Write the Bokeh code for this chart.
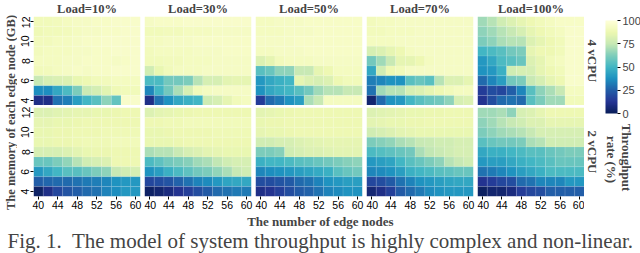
import math
import numpy as np
from bokeh.plotting import figure
from bokeh.layouts import row, column
from bokeh.models import (LinearColorMapper, ColorBar, FixedTicker, Label,
                          ColumnDataSource, Range1d)
from bokeh.palettes import YlGnBu9
from bokeh.embed import file_html
from bokeh.resources import INLINE

# ---------------- data ----------------
nodes = [40, 42, 44, 46, 48, 50, 52, 54, 56, 58, 60]
memory_rows = [12, 11, 10, 9, 8, 7, 6, 5, 4]          # row order of the tables below (top to bottom)
x_ticks = [40, 44, 48, 52, 56, 60]
y_ticks = [4, 6, 8, 10, 12]
loads = ["Load=10%", "Load=30%", "Load=50%", "Load=70%", "Load=100%"]
cpu_labels = ["4 vCPU", "2 vCPU"]
cbar_ticks = [0, 25, 50, 75, 100]
x_title = "The number of edge nodes"
y_title = "The memory of each edge node (GB)"
cbar_title = ["Throughput", "rate (%)"]
caption = "Fig. 1.\u00a0 The model of system throughput is highly complex and non-linear."

cpu4_load10 = [
    [90, 90, 91, 92, 93, 93, 94, 94, 95, 95, 95],
    [89, 90, 90, 91, 92, 93, 93, 94, 94, 95, 95],
    [91, 91, 92, 92, 93, 94, 94, 95, 95, 95, 95],
    [91, 92, 92, 92, 93, 93, 94, 94, 95, 95, 95],
    [92, 92, 92, 93, 93, 94, 94, 94, 93, 94, 95],
    [90, 91, 92, 93, 94, 93, 94, 94, 95, 95, 95],
    [75, 80, 81, 82, 86, 88, 90, 91, 92, 92, 92],
    [37, 37, 45, 52, 62, 76, 79, 84, 89, 90, 90],
    [10, 10, 30, 33, 42, 50, 55, 65, 57, 95, 95],
]
cpu4_load30 = [
    [93, 94, 94, 94, 95, 95, 95, 95, 95, 95, 95],
    [90, 90, 91, 91, 92, 92, 92, 93, 93, 93, 93],
    [92, 92, 93, 93, 93, 94, 94, 94, 94, 94, 94],
    [91, 92, 92, 92, 92, 93, 93, 93, 94, 94, 94],
    [90, 90, 91, 91, 92, 92, 92, 93, 93, 93, 93],
    [78, 86, 90, 92, 92, 92, 93, 93, 93, 93, 93],
    [52, 52, 60, 60, 62, 72, 80, 80, 84, 85, 85],
    [35, 50, 60, 70, 80, 90, 92, 93, 93, 93, 93],
    [10, 30, 38, 45, 48, 50, 77, 80, 85, 90, 92],
]
cpu4_load50 = [
    [92, 92, 93, 93, 93, 94, 94, 94, 94, 94, 94],
    [92, 92, 92, 93, 93, 93, 94, 94, 94, 94, 94],
    [93, 93, 93, 93, 94, 94, 94, 94, 94, 94, 94],
    [92, 92, 93, 93, 93, 94, 94, 94, 94, 94, 94],
    [82, 85, 91, 92, 92, 92, 93, 93, 93, 93, 93],
    [55, 58, 65, 65, 75, 75, 85, 88, 92, 92, 92],
    [40, 45, 48, 50, 85, 82, 80, 82, 88, 90, 90],
    [38, 45, 48, 50, 55, 60, 68, 72, 72, 75, 75],
    [15, 28, 32, 38, 42, 70, 75, 92, 92, 92, 92],
]
cpu4_load70 = [
    [91, 92, 92, 93, 93, 93, 93, 93, 93, 93, 93],
    [91, 91, 92, 92, 92, 93, 93, 93, 93, 93, 93],
    [92, 92, 92, 93, 93, 93, 93, 93, 93, 93, 93],
    [80, 82, 85, 88, 92, 93, 93, 93, 93, 93, 93],
    [60, 68, 75, 85, 85, 88, 92, 93, 93, 93, 93],
    [45, 78, 88, 90, 93, 93, 93, 93, 93, 93, 93],
    [33, 35, 38, 38, 55, 58, 55, 72, 82, 82, 85],
    [30, 68, 72, 72, 80, 82, 85, 88, 90, 92, 92],
    [5, 28, 38, 40, 50, 55, 58, 60, 65, 80, 82],
]
cpu4_load100 = [
    [68, 72, 78, 82, 85, 88, 90, 92, 94, 94, 94],
    [65, 68, 72, 75, 80, 85, 88, 90, 92, 95, 95],
    [62, 65, 70, 72, 72, 82, 85, 88, 90, 95, 95],
    [50, 52, 55, 60, 62, 85, 88, 88, 90, 95, 95],
    [40, 45, 52, 55, 58, 82, 85, 90, 92, 95, 95],
    [38, 40, 48, 78, 80, 80, 85, 88, 90, 95, 95],
    [28, 35, 42, 60, 62, 75, 80, 85, 88, 95, 95],
    [15, 20, 18, 25, 35, 55, 65, 70, 75, 92, 92],
    [12, 20, 28, 30, 28, 55, 62, 68, 68, 90, 90],
]
cpu2_load10 = [
    [82, 82, 83, 84, 85, 85, 86, 86, 87, 88, 88],
    [85, 85, 86, 86, 87, 88, 88, 88, 88, 88, 88],
    [86, 86, 87, 87, 88, 88, 88, 89, 89, 89, 89],
    [86, 86, 87, 87, 88, 89, 89, 89, 90, 90, 90],
    [80, 80, 80, 82, 84, 86, 87, 87, 88, 88, 88],
    [58, 58, 62, 66, 72, 78, 80, 82, 88, 88, 88],
    [40, 45, 50, 55, 55, 58, 62, 65, 75, 78, 80],
    [25, 27, 28, 28, 30, 32, 33, 35, 38, 40, 40],
    [3, 10, 18, 22, 25, 28, 30, 34, 37, 40, 40],
]
cpu2_load30 = [
    [82, 84, 85, 86, 87, 88, 88, 88, 88, 88, 88],
    [88, 88, 89, 89, 90, 90, 90, 90, 90, 90, 90],
    [86, 86, 87, 88, 88, 88, 88, 89, 89, 89, 89],
    [86, 86, 86, 87, 88, 88, 88, 88, 88, 88, 88],
    [70, 72, 72, 76, 80, 82, 84, 85, 86, 86, 86],
    [52, 56, 60, 62, 64, 68, 70, 74, 78, 80, 80],
    [38, 42, 48, 52, 56, 60, 62, 66, 70, 75, 78],
    [18, 20, 22, 26, 30, 34, 36, 40, 44, 45, 45],
    [3, 5, 8, 12, 16, 20, 24, 28, 30, 32, 32],
]
cpu2_load50 = [
    [84, 85, 86, 87, 88, 88, 88, 88, 88, 88, 88],
    [86, 87, 87, 88, 88, 88, 88, 88, 88, 88, 88],
    [85, 86, 86, 87, 88, 88, 88, 88, 88, 88, 88],
    [78, 78, 80, 80, 82, 83, 84, 85, 85, 85, 85],
    [62, 62, 64, 78, 80, 82, 82, 83, 84, 84, 84],
    [48, 50, 50, 52, 55, 56, 58, 60, 62, 64, 65],
    [35, 37, 38, 40, 42, 44, 46, 48, 55, 58, 60],
    [20, 20, 22, 24, 28, 30, 34, 38, 40, 42, 42],
    [10, 12, 16, 20, 24, 26, 30, 34, 36, 38, 38],
]
cpu2_load70 = [
    [82, 83, 84, 85, 86, 86, 87, 87, 88, 88, 88],
    [84, 85, 86, 86, 87, 87, 88, 88, 88, 88, 88],
    [78, 80, 82, 84, 85, 86, 86, 86, 86, 86, 86],
    [62, 64, 66, 70, 72, 75, 76, 78, 78, 80, 80],
    [52, 54, 56, 58, 60, 70, 74, 76, 78, 80, 80],
    [40, 42, 44, 50, 55, 58, 62, 65, 72, 75, 78],
    [35, 36, 38, 42, 48, 50, 52, 55, 56, 58, 58],
    [18, 20, 24, 30, 34, 38, 40, 42, 44, 45, 45],
    [6, 10, 16, 24, 28, 32, 36, 38, 40, 40, 40],
]
cpu2_load100 = [
    [68, 68, 70, 65, 80, 82, 85, 88, 88, 88, 88],
    [65, 68, 72, 75, 78, 82, 82, 85, 85, 85, 85],
    [62, 65, 68, 70, 72, 75, 80, 80, 80, 80, 80],
    [55, 58, 60, 60, 62, 70, 72, 78, 78, 78, 78],
    [45, 48, 48, 50, 52, 55, 55, 58, 60, 62, 62],
    [40, 42, 42, 45, 48, 50, 52, 55, 58, 58, 58],
    [30, 32, 35, 38, 42, 45, 48, 52, 52, 52, 52],
    [12, 15, 18, 20, 28, 30, 35, 35, 35, 40, 40],
    [2, 5, 5, 8, 15, 18, 20, 25, 25, 25, 25],
]

panels = [
    [cpu4_load10, cpu4_load30, cpu4_load50, cpu4_load70, cpu4_load100],
    [cpu2_load10, cpu2_load30, cpu2_load50, cpu2_load70, cpu2_load100],
]

# ---------------- styling ----------------
def smooth_palette(base, n=256):
    rgb = np.array([[int(c[i:i + 2], 16) for i in (1, 3, 5)] for c in base], float)
    pos = np.linspace(0, 1, len(base))
    out = []
    for t in np.linspace(0, 1, n):
        r, g, b = (int(round(np.interp(t, pos, rgb[:, k]))) for k in range(3))
        out.append("#%02x%02x%02x" % (r, g, b))
    return out

palette = smooth_palette(list(YlGnBu9))
mapper = LinearColorMapper(palette=palette, low=0, high=100)

SERIF = "Liberation Serif"
SANS = "Liberation Sans"
FRAME_W = 107
FRAME_H = 89
TITLE_H = 16
GAP = 2
AXIS_B = 17
LEFT_W = 17
RIGHT_W = 56
BOT_H = 40


def col_borders(c):
    left = 16 if c == 0 else 0
    right = 4 if c < 4 else 0
    return left, right


def blank(width, height, xr, yr, **kw):
    p = figure(width=width, height=height, x_range=Range1d(*xr), y_range=Range1d(*yr),
               output_backend="svg", toolbar_location=None,
               x_axis_location=None, y_axis_location=None,
               min_border_left=kw.get("left", 0), min_border_right=kw.get("right", 0),
               min_border_top=0, min_border_bottom=0)
    p.grid.visible = False
    p.outline_line_color = None
    return p


def heat_panel(values, r, c):
    left, right = col_borders(c)
    top = 0 if r == 0 else GAP
    bottom = 0 if r == 0 else AXIS_B
    xs, ys, vs = [], [], []
    for i, mem in enumerate(memory_rows):
        for j, n in enumerate(nodes):
            xs.append(n)
            ys.append(mem)
            vs.append(values[i][j])
    src = ColumnDataSource(dict(x=xs, y=ys, v=vs))
    p = figure(width=left + FRAME_W + right, height=top + FRAME_H + bottom,
               x_range=Range1d(39, 61), y_range=Range1d(3.5, 12.5),
               output_backend="svg", toolbar_location=None,
               x_axis_location="below" if r == 1 else None,
               y_axis_location="left" if c == 0 else None,
               min_border_left=left, min_border_right=right,
               min_border_top=top, min_border_bottom=bottom)
    p.rect(x="x", y="y", width=2, height=1, source=src,
           fill_color={"field": "v", "transform": mapper},
           line_color="white", line_alpha=0.2, line_width=0.5)
    p.grid.visible = False
    p.outline_line_color = None
    for ax in p.xaxis:
        ax.ticker = FixedTicker(ticks=x_ticks)
    for ax in p.yaxis:
        ax.ticker = FixedTicker(ticks=y_ticks)
        ax.major_label_orientation = "vertical"
    for ax in list(p.xaxis) + list(p.yaxis):
        ax.axis_line_color = None
        ax.major_tick_out = 3
        ax.major_tick_in = 0
        ax.minor_tick_line_color = None
        ax.major_label_standoff = 1
        ax.major_label_text_font = SANS
        ax.major_label_text_font_size = "10.5px"
        ax.major_label_text_color = "black"
        ax.major_tick_line_color = "black"
    return p


columns = []
for c in range(5):
    left, right = col_borders(c)
    w = left + FRAME_W + right
    t = blank(w, TITLE_H, (0, 1), (0, TITLE_H), left=left, right=right)
    t.add_layout(Label(x=0.5, y=7.5, text=loads[c], text_align="center",
                       text_baseline="middle", text_font=SERIF,
                       text_font_style="bold", text_font_size="12.5px"))
    columns.append(column(t, heat_panel(panels[0][c], 0, c), heat_panel(panels[1][c], 1, c),
                          spacing=0))

MAIN_H = TITLE_H + FRAME_H + GAP + FRAME_H + AXIS_B

left_strip = blank(LEFT_W, MAIN_H, (0, LEFT_W), (0, MAIN_H))
left_strip.add_layout(Label(x=10.5, y=MAIN_H - 112, text=y_title, angle=math.pi / 2,
                            text_align="center", text_baseline="middle",
                            text_font=SERIF, text_font_style="bold",
                            text_font_size="12.5px"))

right_strip = blank(RIGHT_W, MAIN_H, (0, RIGHT_W), (0, MAIN_H))
top_center = MAIN_H - (TITLE_H + FRAME_H / 2)
bot_center = AXIS_B + FRAME_H / 2
for lab, yc in zip(cpu_labels, [top_center, bot_center]):
    right_strip.add_layout(Label(x=8, y=yc, text=lab, angle=-math.pi / 2,
                                 text_align="center", text_baseline="middle",
                                 text_font=SERIF, text_font_style="bold",
                                 text_font_size="13px"))
right_strip.add_layout(Label(x=42, y=MAIN_H - 157, text=cbar_title[0], angle=-math.pi / 2,
                             text_align="center", text_baseline="middle",
                             text_font=SERIF, text_font_style="bold", text_font_size="13px"))
right_strip.add_layout(Label(x=27, y=MAIN_H - 159, text=cbar_title[1], angle=-math.pi / 2,
                             text_align="center", text_baseline="middle",
                             text_font=SERIF, text_font_style="bold", text_font_size="13px"))

cbar = ColorBar(color_mapper=mapper, ticker=FixedTicker(ticks=cbar_ticks),
                location=(21, MAIN_H - 113), width=12, height=93,
                padding=0, margin=0,
                major_tick_in=0, major_tick_out=3, major_tick_line_color="black",
                major_label_text_font=SANS, major_label_text_font_size="11px",
                label_standoff=2, bar_line_color=None,
                border_line_color=None, background_fill_alpha=0)
right_strip.add_layout(cbar, "center")

main_row = row(left_strip, *columns, right_strip, spacing=0)

TOTAL_W = 640
bottom_strip = blank(TOTAL_W, BOT_H, (0, TOTAL_W), (0, BOT_H))
bottom_strip.add_layout(Label(x=320, y=BOT_H - 7.5, text=x_title, text_align="center",
                              text_baseline="middle", text_font=SERIF,
                              text_font_style="bold", text_font_size="13px"))
bottom_strip.add_layout(Label(x=320, y=12.5, text=caption, text_align="center",
                              text_baseline="middle", text_font=SERIF,
                              text_font_size="21px"))

layout = column(main_row, bottom_strip, spacing=0)

open("out.html", "w").write(file_html(layout, INLINE))
